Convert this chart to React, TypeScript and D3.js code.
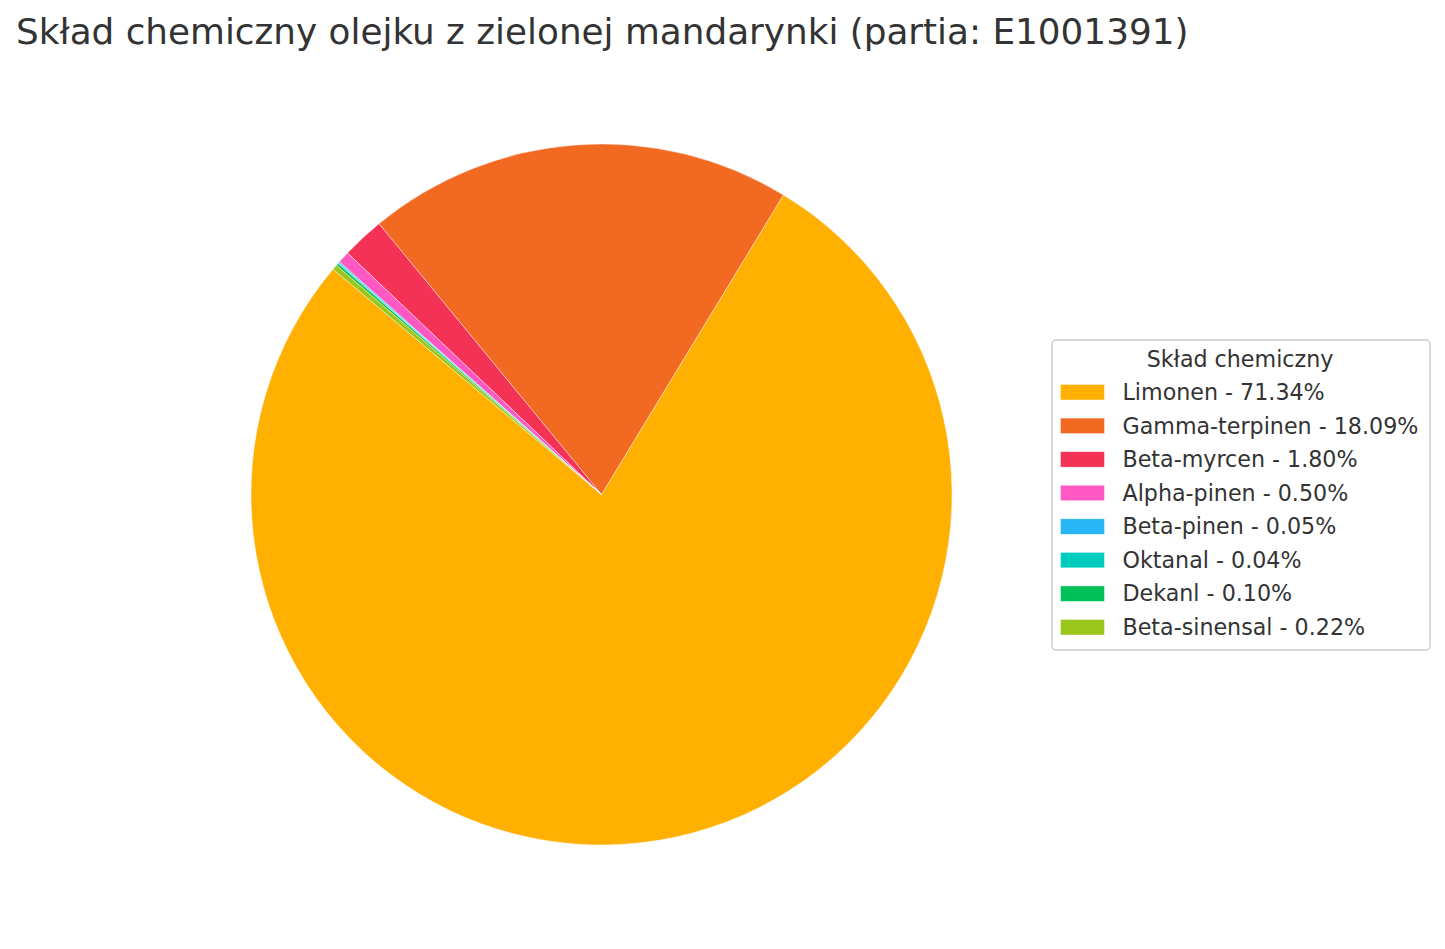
import React from 'react';
import * as d3 from 'd3';

// Chart data
const components: string[] = [
  'Limonen',
  'Gamma-terpinen',
  'Beta-myrcen',
  'Alpha-pinen',
  'Beta-pinen',
  'Oktanal',
  'Dekanl',
  'Beta-sinensal',
];
const shares: number[] = [71.34, 18.09, 1.8, 0.5, 0.05, 0.04, 0.1, 0.22];
const colors: string[] = [
  '#FFB000',
  '#F26A22',
  '#F43256',
  '#FF58C2',
  '#29B6F6',
  '#00CCBF',
  '#00C059',
  '#9BC61B',
];

const W = 1445;
const H = 949;
const FONT = "'DejaVu Sans', sans-serif";
const TEXT = '#333333';

interface Slice {
  name: string;
  value: number;
  color: string;
}

const slices: Slice[] = components.map((name, i) => ({
  name,
  value: shares[i],
  color: colors[i],
}));

const App: React.FC = () => {
  const cx = 601.5;
  const cy = 494.5;
  const radius = 350.5;

  // matplotlib startangle=140, counterclockwise -> d3 angles (clockwise from 12 o'clock)
  const start = ((90 - 140) * Math.PI) / 180;
  const pie = d3
    .pie<Slice>()
    .sort(null)
    .value((d) => d.value)
    .startAngle(start)
    .endAngle(start - 2 * Math.PI);

  const arc = d3.arc<d3.PieArcDatum<Slice>>().innerRadius(0).outerRadius(radius);
  const arcs = pie(slices);

  // legend layout
  const lg = { x: 1052, y: 340, w: 378, h: 310 };
  const rowY = d3
    .scaleLinear()
    .domain([0, slices.length - 1])
    .range([392.5, 627.5]);

  return (
    <div style={{ position: 'absolute', left: 0, top: 0 }}>
      <svg width={W} height={H} style={{ display: 'block', background: '#fff' }}>
        <text x={16} y={43.5} fontFamily={FONT} fontSize={35.8} fill={TEXT}>
          Skład chemiczny olejku z zielonej mandarynki (partia: E1001391)
        </text>

        <g transform={`translate(${cx},${cy})`}>
          {arcs.map((a) => (
            <path key={a.data.name} d={arc(a) ?? ''} fill={a.data.color} stroke="#ffffff" strokeWidth={0.6} strokeOpacity={0.7} />
          ))}
        </g>

        <g>
          <rect
            x={lg.x}
            y={lg.y}
            width={lg.w}
            height={lg.h}
            rx={4}
            fill="#ffffff"
            fillOpacity={0.8}
            stroke="#cccccc"
            strokeWidth={1.5}
          />
          <text x={1240} y={366.5} textAnchor="middle" fontFamily={FONT} fontSize={22.2} fill={TEXT}>
            Skład chemiczny
          </text>
          {slices.map((s, i) => (
            <g key={s.name} transform={`translate(0,${rowY(i)})`}>
              <rect x={1060.5} y={-8} width={44} height={15.5} fill={s.color} stroke="#ffffff" strokeWidth={0.6} strokeOpacity={0.7} />
              <text x={1122.5} y={7.5} fontFamily={FONT} fontSize={22.2} fill={TEXT}>
                {`${s.name} - ${s.value.toFixed(2)}%`}
              </text>
            </g>
          ))}
        </g>
      </svg>
    </div>
  );
};

export default App;
